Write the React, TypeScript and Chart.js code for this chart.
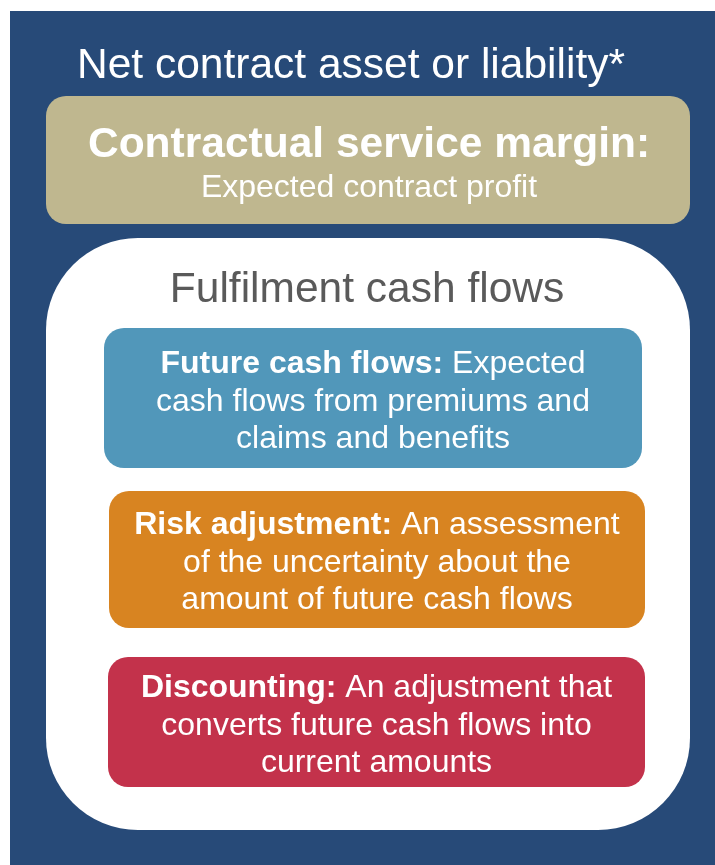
import React, { useEffect, useRef } from "react";
import { Chart, registerables } from "chart.js";

Chart.register(...registerables);

// ---- content ----
const headerTitle = "Net contract asset or liability*";
const marginLabel = "Contractual service margin:";
const marginText = "Expected contract profit";
const fulfilmentTitle = "Fulfilment cash flows";
const componentLabels = ["Future cash flows:", "Risk adjustment:", "Discounting:"];
const componentFirstLine = ["Expected", "An assessment", "An adjustment that"];
const componentRestLines = [
  ["cash flows from premiums and", "claims and benefits"],
  ["of the uncertainty about the", "amount of future cash flows"],
  ["converts future cash flows into", "current amounts"],
];

// ---- styles ----
const NAVY = "#274a78";
const TAN = "#bfb78f";
const GRAY = "#5a5a5a";
const componentColors = ["#5197ba", "#d88421", "#c3324b"];
const FONT = '"Liberation Sans", Arial, Helvetica, sans-serif';

// layout (in scale units, equal to pixels)
const W = 715;
const H = 865;
const componentBoxes = [
  { x0: 104, x1: 642, y0: 328, y1: 468, base: 373 },
  { x0: 109, x1: 645, y0: 491, y1: 628, base: 534 },
  { x0: 108, x1: 645, y0: 657, y1: 787, base: 697 },
];

function roundRect(ctx: CanvasRenderingContext2D, x: number, y: number, w: number, h: number, r: number) {
  ctx.beginPath();
  ctx.moveTo(x + r, y);
  ctx.lineTo(x + w - r, y);
  ctx.arcTo(x + w, y, x + w, y + r, r);
  ctx.lineTo(x + w, y + h - r);
  ctx.arcTo(x + w, y + h, x + w - r, y + h, r);
  ctx.lineTo(x + r, y + h);
  ctx.arcTo(x, y + h, x, y + h - r, r);
  ctx.lineTo(x, y + r);
  ctx.arcTo(x, y, x + r, y, r);
  ctx.closePath();
}

const diagramPlugin = {
  id: "diagram",
  beforeDraw(chart: any) {
    const ctx: CanvasRenderingContext2D = chart.ctx;
    const sx = chart.scales.x;
    const sy = chart.scales.y;
    const px = (v: number) => sx.getPixelForValue(v);
    const py = (v: number) => sy.getPixelForValue(v);
    const box = (x0: number, y0: number, x1: number, y1: number, r: number, color: string) => {
      ctx.fillStyle = color;
      roundRect(ctx, px(x0), py(y0), px(x1) - px(x0), py(y1) - py(y0), r);
      ctx.fill();
    };
    const centerText = (text: string, cx: number, base: number, font: string, color: string) => {
      ctx.font = font;
      ctx.fillStyle = color;
      ctx.textAlign = "center";
      ctx.textBaseline = "alphabetic";
      ctx.fillText(text, px(cx), py(base));
    };
    const mixedLine = (bold: string, normal: string, cx: number, base: number, size: number, color: string) => {
      const bf = `bold ${size}px ${FONT}`;
      const nf = `${size}px ${FONT}`;
      ctx.font = bf;
      const bw = ctx.measureText(bold).width;
      ctx.font = nf;
      const nw = ctx.measureText(" " + normal).width;
      const start = px(cx) - (bw + nw) / 2;
      ctx.textAlign = "left";
      ctx.textBaseline = "alphabetic";
      ctx.fillStyle = color;
      ctx.font = bf;
      ctx.fillText(bold, start, py(base));
      ctx.font = nf;
      ctx.fillText(" " + normal, start + bw, py(base));
    };

    ctx.save();
    // background
    ctx.fillStyle = NAVY;
    ctx.fillRect(px(10), py(11), px(W) - px(10), py(H) - py(11));

    centerText(headerTitle, 351, 78, `42.5px ${FONT}`, "#ffffff");

    // CSM box
    box(46, 96, 690, 224, 20, TAN);
    centerText(marginLabel, 369, 157, `bold 42.5px ${FONT}`, "#ffffff");
    centerText(marginText, 369, 197, `32px ${FONT}`, "#ffffff");

    // fulfilment container
    box(46, 238, 690, 830, 92, "#ffffff");
    centerText(fulfilmentTitle, 367, 302, `42.5px ${FONT}`, GRAY);

    componentBoxes.forEach((b, i) => {
      box(b.x0, b.y0, b.x1, b.y1, 20, componentColors[i]);
      const cx = (b.x0 + b.x1) / 2;
      mixedLine(componentLabels[i], componentFirstLine[i], cx, b.base, 32, "#ffffff");
      componentRestLines[i].forEach((line, j) => {
        centerText(line, cx, b.base + 37.5 * (j + 1), `32px ${FONT}`, "#ffffff");
      });
    });
    ctx.restore();
  },
};

export default function App() {
  const ref = useRef<HTMLCanvasElement | null>(null);
  useEffect(() => {
    document.body.style.margin = "0";
    if (!ref.current) return;
    const chart = new Chart(ref.current, {
      type: "scatter",
      data: { datasets: [{ data: [], pointRadius: 0 }] },
      options: {
        animation: false,
        responsive: true,
        maintainAspectRatio: false,
        layout: { padding: 0 },
        plugins: { legend: { display: false }, tooltip: { enabled: false } },
        scales: {
          x: { type: "linear", min: 0, max: W, display: false },
          y: { type: "linear", min: 0, max: H, reverse: true, display: false },
        },
      },
      plugins: [diagramPlugin],
    });
    return () => chart.destroy();
  }, []);
  return (
    <div style={{ position: "absolute", left: 0, top: 0, width: W, height: H, background: "#ffffff" }}>
      <canvas ref={ref} />
    </div>
  );
}
